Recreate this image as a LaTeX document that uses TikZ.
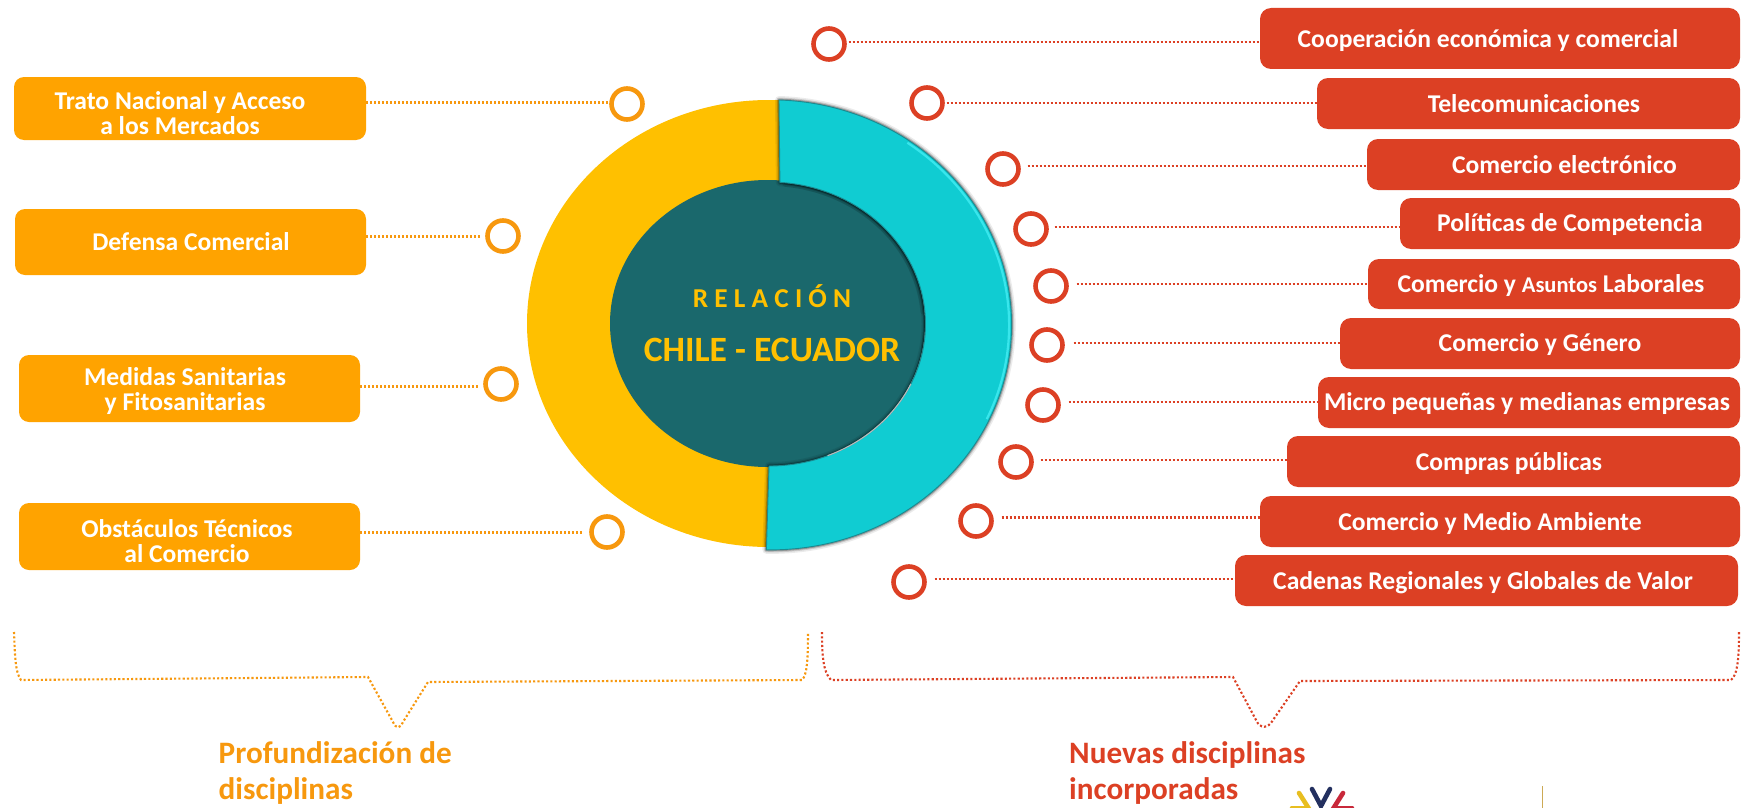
\documentclass[tikz,border=0pt]{standalone}
\usepackage{fontspec}
\setmainfont{Carlito}[BoldFont={Carlito Bold}]
\definecolor{orbox}{HTML}{FFA300}
\definecolor{orline}{HTML}{F7980E}
\definecolor{redbox}{HTML}{DC4024}
\definecolor{yelring}{HTML}{FFC000}
\definecolor{tealring}{HTML}{10CCD2}
\definecolor{tealdark}{HTML}{1A686C}
\definecolor{tealedge}{HTML}{1B8A90}
\definecolor{teallight}{HTML}{38E6EC}
\definecolor{logoy}{HTML}{E8BE20}
\definecolor{logon}{HTML}{23305F}
\definecolor{logor}{HTML}{C8283A}
\definecolor{tanline}{HTML}{CDAA55}
\tikzset{
  x=1pt,y=1pt,
  obox/.style={fill=orbox,draw=none,rounded corners=10pt,inner sep=0pt,outer sep=0pt},
  rbox/.style={fill=redbox,draw=none,rounded corners=11pt,inner sep=0pt,outer sep=0pt},
  otext/.style={text=white,font=\fontsize{25.6}{25}\selectfont\bfseries,align=center,inner sep=0pt},
  rtext/.style={text=white,font=\fontsize{25.6}{25}\selectfont\bfseries,align=center,inner sep=0pt},
  ocirc/.style={circle,draw=orline,line width=4.6pt,minimum size=31pt,inner sep=0pt,outer sep=0pt},
  rcirc/.style={circle,draw=redbox,line width=4.6pt,minimum size=31pt,inner sep=0pt,outer sep=0pt},
  oconn/.style={draw=orline,line width=2.4pt,dash pattern=on 2.4pt off 1.6pt},
  rconn/.style={draw=redbox,line width=2.4pt,dash pattern=on 2.4pt off 1.6pt},
  obrack/.style={draw=orline,line width=2.1pt,dash pattern=on 2.1pt off 2.2pt},
  rbrack/.style={draw=redbox,line width=2.1pt,dash pattern=on 2.1pt off 2.2pt},
  head/.style={font=\fontsize{31.2}{36}\selectfont\bfseries,align=left,inner sep=0pt},
}
\newcommand{\OBox}[5]{%
  \node[obox,minimum width=#3pt-#2pt,minimum height=#5pt-#4pt] (#1) at ({(#2+#3)/2},{-(#4+#5)/2}) {};}
\newcommand{\RBox}[5]{%
  \node[rbox,minimum width=#3pt-#2pt,minimum height=#5pt-#4pt] (#1) at ({(#2+#3)/2},{-(#4+#5)/2}) {};}
\begin{document}
\begin{tikzpicture}
\useasboundingbox (0,0) rectangle (1745,-808);
\fill[white] (0,0) rectangle (1745,-808);
\clip (0,0) rectangle (1745,-808);

% ---- ring
\begin{scope}
  \clip (500,-80) rectangle (790,-570);
  \fill[yelring] (769,-323.5) ellipse [x radius=242,y radius=223.5];
\end{scope}
\fill[tealdark] (767.5,-323.5) ellipse [x radius=157.5,y radius=143.5];
\def\tealpath{(779,-100) arc[start angle=88,end angle=-91,x radius=241,y radius=225]
   -- (769,-466) arc[start angle=-90,end angle=86,x radius=156.5,y radius=142] -- cycle}
\draw[black,opacity=.08,line width=8pt,line join=round] \tealpath;
\draw[black,opacity=.14,line width=5pt,line join=round] \tealpath;
\draw[black,opacity=.25,line width=2.8pt,line join=round] \tealpath;
% dark band inside the ring's inner edge, tapering towards the lower right
\draw[black,opacity=.10,line width=6pt,line cap=round] (769,-324) ++(84:155 and 141) arc[start angle=84,end angle=5,x radius=155,y radius=141];
\draw[black,opacity=.12,line width=4pt,line cap=round] (769,-324) ++(84:156 and 142) arc[start angle=84,end angle=-10,x radius=156,y radius=142];
\draw[black,opacity=.14,line width=2.5pt,line cap=round] (769,-324) ++(84:156.5 and 142) arc[start angle=84,end angle=-22,x radius=156.5,y radius=142];
\fill[tealring,draw=tealedge,line width=.9pt,line join=round] \tealpath;
\draw[gray!55!white,line width=1.1pt] (769,-324) ++(-25:156.5 and 142) arc[start angle=-25,end angle=-68,x radius=156.5,y radius=142];
\draw[teallight,line width=2.2pt] (770.6,-325) ++(55:238.5 and 222.5) arc[start angle=55,end angle=-25,x radius=238.5,y radius=222.5];

\node[font=\fontsize{27.3}{27}\selectfont\bfseries,text=yelring,inner sep=0pt] (rel) at (772,-296) {R E L A C I Ó N};
\node[font=\fontsize{35.6}{36}\selectfont\bfseries,text=yelring,inner sep=0pt] (chi) at (772,-349.5) {CHILE - ECUADOR};

% ---- left boxes
\OBox{o1}{14}{366}{77}{140}
\OBox{o2}{15}{366}{209}{275}
\OBox{o3}{19}{360}{355}{422}
\OBox{o4}{19}{360}{503}{570}
\node[otext] (ot1) at (180,-113.5) {Trato Nacional y Acceso\\a los Mercados};
\node[otext] (ot2) at (191,-242) {Defensa Comercial};
\node[otext] (ot3) at (185,-391.5) {Medidas Sanitarias\\y Fitosanitarias};
\node[otext] (ot4) at (187,-541) {Obstáculos Técnicos\\al Comercio};

\node[ocirc] (oc1) at (627,-104) {};
\node[ocirc] (oc2) at (503,-236) {};
\node[ocirc] (oc3) at (501,-384) {};
\node[ocirc] (oc4) at (607,-532) {};
\draw[oconn,shorten >=4pt] (o1.east |- 0,-102.5) -- (oc1.west |- 0,-102.5);
\draw[oconn,shorten >=6pt] (o2.east |- 0,-236.5) -- (oc2.west |- 0,-236.5);
\draw[oconn,shorten >=6pt] (o3.east |- 0,-386.5) -- (oc3.west |- 0,-386.5);
\draw[oconn,shorten >=10pt] (o4.east |- 0,-532.5) -- (oc4.west |- 0,-532.5);

% ---- right boxes
\RBox{r1}{1260}{1740}{8}{69}
\RBox{r2}{1317}{1740}{78}{129}
\RBox{r3}{1367}{1740}{139}{190}
\RBox{r4}{1400}{1740}{198}{249}
\RBox{r5}{1368}{1740}{259}{309}
\RBox{r6}{1340}{1740}{318}{369}
\RBox{r7}{1318}{1740}{377}{428}
\RBox{r8}{1287}{1740}{436}{487}
\RBox{r9}{1260}{1740}{496}{547}
\RBox{r10}{1235}{1738}{555}{606}
\node[rtext] (rt1) at (1488,-40.5) {Cooperación económica y comercial};
\node[rtext] (rt2) at (1534,-104) {Telecomunicaciones};
\node[rtext] (rt3) at (1564.5,-165) {Comercio electrónico};
\node[rtext] (rt4) at (1570,-225) {Políticas de Competencia};
\node[rtext] (rt5) at (1551,-286) {Comercio y {\fontsize{22.5}{22}\selectfont Asuntos} Laborales};
\node[rtext] (rt6) at (1540,-345) {Comercio y Género};
\node[rtext] (rt7) at (1527,-404) {Micro pequeñas y medianas empresas};
\node[rtext] (rt8) at (1509,-464) {Compras públicas};
\node[rtext] (rt9) at (1490,-524) {Comercio y Medio Ambiente};
\node[rtext] (rt10) at (1483,-583) {Cadenas Regionales y Globales de Valor};

\node[rcirc] (rc1) at (829,-44) {};
\node[rcirc] (rc2) at (927,-103) {};
\node[rcirc] (rc3) at (1003,-169) {};
\node[rcirc] (rc4) at (1031,-229) {};
\node[rcirc] (rc5) at (1051,-286) {};
\node[rcirc] (rc6) at (1047,-345) {};
\node[rcirc] (rc7) at (1043,-405) {};
\node[rcirc] (rc8) at (1016,-462) {};
\node[rcirc] (rc9) at (976,-521) {};
\node[rcirc] (rc10) at (909,-582) {};
\draw[rconn,shorten <=4pt] (rc1.east |- 0,-42) -- (r1.west |- 0,-42);
\draw[rconn,shorten <=4pt] (rc2.east |- 0,-103) -- (r2.west |- 0,-103);
\draw[rconn,shorten <=9pt] (rc3.east |- 0,-166) -- (r3.west |- 0,-166);
\draw[rconn,shorten <=8pt] (rc4.east |- 0,-227) -- (r4.west |- 0,-227);
\draw[rconn,shorten <=10pt] (rc5.east |- 0,-284) -- (r5.west |- 0,-284);
\draw[rconn,shorten <=11pt] (rc6.east |- 0,-343) -- (r6.west |- 0,-343);
\draw[rconn,shorten <=10pt] (rc7.east |- 0,-402) -- (r7.west |- 0,-402);
\draw[rconn,shorten <=9pt] (rc8.east |- 0,-460) -- (r8.west |- 0,-460);
\draw[rconn,shorten <=10pt] (rc9.east |- 0,-517.5) -- (r9.west |- 0,-517.5);
\draw[rconn,shorten <=10pt] (rc10.east |- 0,-579) -- (r10.west |- 0,-579);

% ---- brackets
\draw[obrack] (14,-632) .. controls (15,-655) and (15,-672) .. (21,-680)
  -- (368,-677) -- (393,-722) .. controls (396,-729) and (400,-729) .. (403,-722) -- (428,-682) -- (802,-680)
  .. controls (807,-675) and (808,-660) .. (808,-632);
\draw[rbrack] (822,-632) .. controls (822,-655) and (823,-672) .. (831,-680)
  -- (1233,-677) -- (1256,-720) .. controls (1260,-729) and (1268,-729) .. (1273,-720) -- (1300,-681) -- (1731,-680)
  .. controls (1738,-675) and (1739,-655) .. (1739,-632);

\node[head,text=orline,anchor=north west] (h1) at (218.5,-741.5) {Profundización de\\disciplinas};
\node[head,text=redbox,anchor=north west] (h2) at (1069,-741.5) {Nuevas disciplinas\\incorporadas};

% ---- cut-off logo at the lower edge
\begin{scope}[line cap=round,line width=4.6pt]
  \draw[logoy] (1299,-793) -- (1311,-812);
  \draw[logoy] (1292,-808) -- (1308,-808);
  \draw[logon] (1312,-789) -- (1321,-806) -- (1330,-789);
  \draw[logor] (1343,-793) -- (1331,-812);
  \draw[logor] (1352,-808) -- (1335,-808);
\end{scope}
\draw[draw=tanline,line width=1pt] (1542,-786) -- (1542,-808);
\end{tikzpicture}
\end{document}
